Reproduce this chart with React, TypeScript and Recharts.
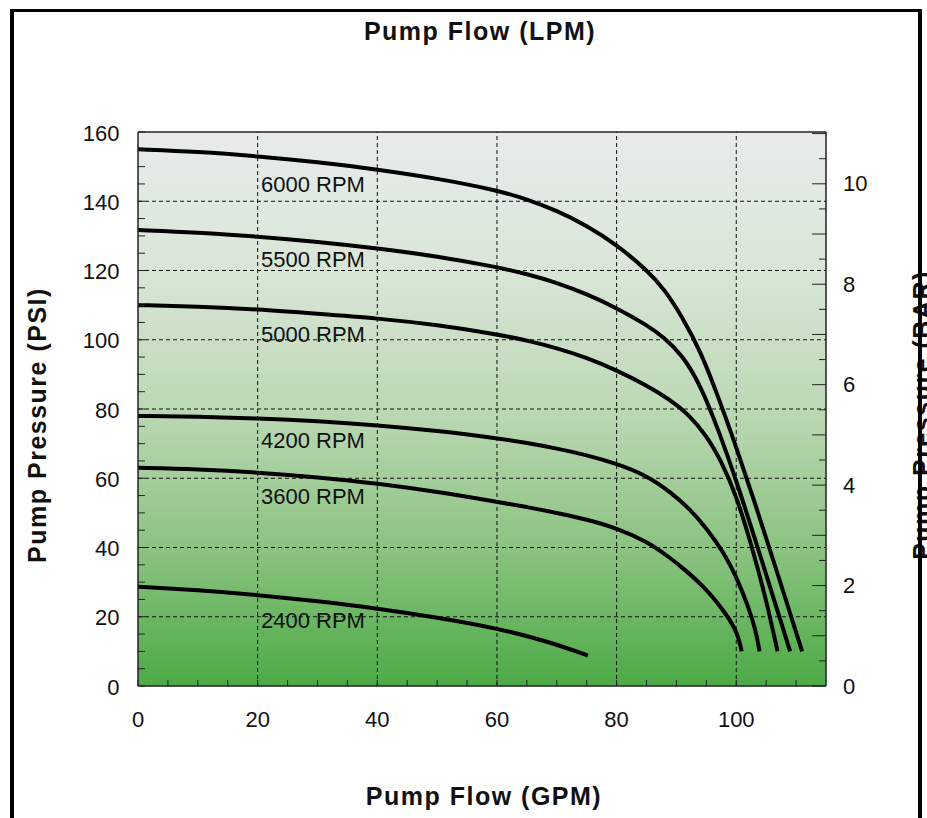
import React from 'react';
import { LineChart, Line, XAxis, YAxis, ReferenceLine, ReferenceArea, ReferenceDot } from 'recharts';

// ---- Data (GPM, PSI) ----
const rpm6000 = [
  { gpm: 0, psi: 155 }, { gpm: 10, psi: 154.3 }, { gpm: 20, psi: 153 }, { gpm: 30, psi: 151.3 },
  { gpm: 40, psi: 149.2 }, { gpm: 50, psi: 146.6 }, { gpm: 60, psi: 143.2 }, { gpm: 65, psi: 140.6 },
  { gpm: 70, psi: 137.3 }, { gpm: 75, psi: 133 }, { gpm: 80, psi: 127.5 }, { gpm: 85, psi: 120.2 },
  { gpm: 88, psi: 114.6 }, { gpm: 91, psi: 106.5 }, { gpm: 94, psi: 96.8 }, { gpm: 97, psi: 83.5 },
  { gpm: 100, psi: 69 }, { gpm: 103, psi: 53.5 }, { gpm: 107, psi: 32 }, { gpm: 111, psi: 10 },
];
const rpm5500 = [
  { gpm: 0, psi: 131.7 }, { gpm: 10, psi: 131 }, { gpm: 20, psi: 129.8 }, { gpm: 30, psi: 128.3 },
  { gpm: 40, psi: 126.4 }, { gpm: 50, psi: 124.1 }, { gpm: 60, psi: 121 }, { gpm: 65, psi: 119 },
  { gpm: 70, psi: 116.5 }, { gpm: 75, psi: 113.2 }, { gpm: 80, psi: 109.2 }, { gpm: 85, psi: 104.3 },
  { gpm: 88, psi: 100.6 }, { gpm: 91, psi: 95.5 }, { gpm: 94, psi: 87 }, { gpm: 97, psi: 74 },
  { gpm: 100, psi: 59.5 }, { gpm: 104.5, psi: 35 }, { gpm: 109, psi: 10 },
];
const rpm5000 = [
  { gpm: 0, psi: 110 }, { gpm: 10, psi: 109.6 }, { gpm: 20, psi: 108.8 }, { gpm: 30, psi: 107.5 },
  { gpm: 40, psi: 106.2 }, { gpm: 50, psi: 104.3 }, { gpm: 60, psi: 101.6 }, { gpm: 65, psi: 99.8 },
  { gpm: 70, psi: 97.6 }, { gpm: 75, psi: 94.8 }, { gpm: 80, psi: 91.2 }, { gpm: 85, psi: 86.8 },
  { gpm: 89, psi: 82.6 }, { gpm: 92, psi: 78.5 }, { gpm: 95, psi: 72.4 }, { gpm: 97.5, psi: 65 },
  { gpm: 100, psi: 55 }, { gpm: 102.5, psi: 41 }, { gpm: 105, psi: 25 }, { gpm: 106.9, psi: 10 },
];
const rpm4200 = [
  { gpm: 0, psi: 78 }, { gpm: 10, psi: 77.8 }, { gpm: 20, psi: 77.3 }, { gpm: 30, psi: 76.5 },
  { gpm: 40, psi: 75.3 }, { gpm: 50, psi: 73.7 }, { gpm: 60, psi: 71.6 }, { gpm: 65, psi: 70.2 },
  { gpm: 70, psi: 68.6 }, { gpm: 75, psi: 66.7 }, { gpm: 80, psi: 64.2 }, { gpm: 85, psi: 60.8 },
  { gpm: 89, psi: 56 }, { gpm: 92, psi: 51.5 }, { gpm: 95, psi: 45.7 }, { gpm: 98, psi: 38.3 },
  { gpm: 100, psi: 31.6 }, { gpm: 102, psi: 23 }, { gpm: 103.2, psi: 16.5 }, { gpm: 103.9, psi: 10 },
];
const rpm3600 = [
  { gpm: 0, psi: 63 }, { gpm: 10, psi: 62.6 }, { gpm: 20, psi: 61.7 }, { gpm: 30, psi: 60.3 },
  { gpm: 40, psi: 58.5 }, { gpm: 50, psi: 56.1 }, { gpm: 60, psi: 53.2 }, { gpm: 65, psi: 51.7 },
  { gpm: 70, psi: 50 }, { gpm: 75, psi: 48.1 }, { gpm: 80, psi: 45.6 }, { gpm: 85, psi: 41.8 },
  { gpm: 88.5, psi: 37.6 }, { gpm: 91.5, psi: 33.5 }, { gpm: 94.5, psi: 28.8 }, { gpm: 97, psi: 23.8 },
  { gpm: 99, psi: 19 }, { gpm: 100.3, psi: 14.8 }, { gpm: 100.9, psi: 10 },
];
const rpm2400 = [
  { gpm: 0, psi: 28.7 }, { gpm: 10, psi: 27.7 }, { gpm: 20, psi: 26.3 }, { gpm: 30, psi: 24.5 },
  { gpm: 40, psi: 22.4 }, { gpm: 50, psi: 19.8 }, { gpm: 60, psi: 16.7 }, { gpm: 68.5, psi: 12.9 },
  { gpm: 75.2, psi: 8.8 },
];

const series = [rpm6000, rpm5500, rpm5000, rpm4200, rpm3600, rpm2400];

const curveLabels = [
  { text: '6000 RPM', gpm: 20.55, psi: 144.9 },
  { text: '5500 RPM', gpm: 20.55, psi: 123.3 },
  { text: '5000 RPM', gpm: 20.55, psi: 101.6 },
  { text: '4200 RPM', gpm: 20.55, psi: 71.0 },
  { text: '3600 RPM', gpm: 20.55, psi: 54.6 },
  { text: '2400 RPM', gpm: 20.55, psi: 18.8 },
];

// ---- Axes ----
const GPM_MAX = 115;
const PSI_MAX = 160;
const LPM_PER_GPM = 3.78541;
const PSI_PER_BAR = 14.5038;

const gpmTicks = [0, 5, 10, 15, 20, 25, 30, 35, 40, 45, 50, 55, 60, 65, 70, 75, 80, 85, 90, 95, 100, 105, 110];
const gpmLabels = [0, 20, 40, 60, 80, 100];
const psiTicks = [0, 5, 10, 15, 20, 25, 30, 35, 40, 45, 50, 55, 60, 65, 70, 75, 80, 85, 90, 95, 100, 105, 110, 115, 120, 125, 130, 135, 140, 145, 150, 155, 160];
const psiLabels = [0, 20, 40, 60, 80, 100, 120, 140, 160];
const lpmTicks = [0, 10, 20, 30, 40, 50, 60, 70, 80, 90, 100, 110, 120, 130, 140, 150, 160, 170, 180, 190, 200, 210, 220, 230, 240, 250, 260, 270, 280, 290, 300, 310, 320, 330, 340, 350, 360, 370, 380, 390, 400, 410, 420, 430];
const lpmLabels = [0, 50, 100, 150, 200, 250, 300, 350, 400];
const barTicks = [0, 0.5, 1, 1.5, 2, 2.5, 3, 3.5, 4, 4.5, 5, 5.5, 6, 6.5, 7, 7.5, 8, 8.5, 9, 9.5, 10, 10.5, 11];
const barLabels = [0, 2, 4, 6, 8, 10];
const gridGpm = [20, 40, 60, 80, 100];
const gridPsi = [20, 40, 60, 80, 100, 120, 140];

const FONT = '"Liberation Sans", Arial, Helvetica, sans-serif';
const TICK_FONT = 22;
const AXIS_COLOR = '#222';

const GpmTick = (p: any) => {
  const v = p.payload.value;
  return (
    <g>
      <line x1={p.x} x2={p.x} y1={p.y} y2={p.y - 6} stroke={AXIS_COLOR} strokeWidth={1} />
      {gpmLabels.includes(v) && (
        <text x={p.x} y={p.y + 33.5} textAnchor="middle" dominantBaseline="central" fontSize={TICK_FONT} fontFamily={FONT} fill="#111">{v}</text>
      )}
    </g>
  );
};
const LpmTick = (p: any) => {
  const v = p.payload.value;
  const major = lpmLabels.includes(v);
  return (
    <g>
      <line x1={p.x} x2={p.x} y1={p.y} y2={p.y + (major ? 12 : 5)} stroke={AXIS_COLOR} strokeWidth={1} />
      {major && (
        <text x={p.x} y={p.y - 29.5} textAnchor="middle" dominantBaseline="central" fontSize={TICK_FONT} fontFamily={FONT} fill="#111">{v}</text>
      )}
    </g>
  );
};
const PsiTick = (p: any) => {
  const v = p.payload.value;
  return (
    <g>
      <line x1={p.x} x2={p.x + 7} y1={p.y} y2={p.y} stroke={AXIS_COLOR} strokeWidth={1} />
      {psiLabels.includes(v) && (
        <text x={p.x - 18.5} y={p.y + 1} textAnchor="end" dominantBaseline="central" fontSize={TICK_FONT} fontFamily={FONT} fill="#111">{v}</text>
      )}
    </g>
  );
};
const BarTick = (p: any) => {
  const v = p.payload.value;
  const major = Number.isInteger(v);
  return (
    <g>
      <line x1={p.x} x2={p.x - (major ? 14 : 7)} y1={p.y} y2={p.y} stroke={AXIS_COLOR} strokeWidth={1} />
      {barLabels.includes(v) && (
        <text x={p.x + 17} y={p.y} textAnchor="start" dominantBaseline="central" fontSize={TICK_FONT} fontFamily={FONT} fill="#111">{v}</text>
      )}
    </g>
  );
};

const TITLE_STYLE = { fontFamily: FONT, fontWeight: 700, fontSize: 25, letterSpacing: 1.5, fill: '#111' } as const;

export default function App() {
  return (
    <div style={{ position: 'absolute', left: 0, top: 0, width: 927, height: 818, background: '#fff', overflow: 'hidden' }}>
      <svg width={927} height={818} style={{ position: 'absolute', left: 0, top: 0 }}>
        <defs>
          <linearGradient id="plotBg" x1="0" y1="0" x2="0" y2="1">
            <stop offset="0%" stopColor="#e7ece9" />
            <stop offset="25%" stopColor="#d9e6d7" />
            <stop offset="50%" stopColor="#bcd8b5" />
            <stop offset="75%" stopColor="#8cc381" />
            <stop offset="100%" stopColor="#4caa46" />
          </linearGradient>
        </defs>
        <text x={480} y={40} textAnchor="middle" style={TITLE_STYLE}>Pump Flow (LPM)</text>
        <text x={484} y={805} textAnchor="middle" style={TITLE_STYLE}>Pump Flow (GPM)</text>
        <text transform="translate(46,425) rotate(-90)" textAnchor="middle" style={TITLE_STYLE}>Pump Pressure (PSI)</text>
        <text transform="translate(931,415) rotate(-90)" textAnchor="middle" style={TITLE_STYLE}>Pump Pressure (BAR)</text>
      </svg>
      <div style={{ position: 'absolute', left: 10, top: 9, width: 912, height: 900, boxSizing: 'border-box', border: '4px solid #000', borderTopWidth: 3 }} />
      <div style={{ position: 'absolute', left: 0, top: 0 }}>
        <LineChart width={927} height={818} margin={{ top: 0, right: 0, bottom: 0, left: 0 }}>
          <ReferenceArea xAxisId="gpm" yAxisId="psi" x1={0} x2={GPM_MAX} y1={0} y2={PSI_MAX} fill="url(#plotBg)" fillOpacity={1} stroke="none" />
          {gridGpm.map((g) => (
            <ReferenceLine key={'gx' + g} xAxisId="gpm" yAxisId="psi" x={g} stroke="#111" strokeWidth={1} strokeDasharray="4 3" />
          ))}
          {gridPsi.map((g) => (
            <ReferenceLine key={'gy' + g} xAxisId="gpm" yAxisId="psi" y={g} stroke="#111" strokeWidth={1} strokeDasharray="4 3" />
          ))}
          <XAxis xAxisId="gpm" orientation="bottom" type="number" dataKey="gpm" domain={[0, GPM_MAX]} allowDataOverflow
            height={132} ticks={gpmTicks} interval={0} tickSize={0} tickMargin={0} tickLine={false}
            tick={(p: any) => <GpmTick {...p} />} axisLine={{ stroke: AXIS_COLOR, strokeWidth: 1.5 }} />
          <XAxis xAxisId="lpm" orientation="top" type="number" domain={[0, GPM_MAX * LPM_PER_GPM]} allowDataOverflow
            height={132} ticks={lpmTicks} interval={0} tickSize={0} tickMargin={0} tickLine={false}
            tick={(p: any) => <LpmTick {...p} />} axisLine={{ stroke: AXIS_COLOR, strokeWidth: 1.5 }} />
          <YAxis yAxisId="psi" orientation="left" type="number" domain={[0, PSI_MAX]} allowDataOverflow
            width={138} ticks={psiTicks} interval={0} tickSize={0} tickMargin={0} tickLine={false}
            tick={(p: any) => <PsiTick {...p} />} axisLine={{ stroke: AXIS_COLOR, strokeWidth: 1.5 }} />
          <YAxis yAxisId="bar" orientation="right" type="number" domain={[0, PSI_MAX / PSI_PER_BAR]} allowDataOverflow
            width={101} ticks={barTicks} interval={0} tickSize={0} tickMargin={0} tickLine={false}
            tick={(p: any) => <BarTick {...p} />} axisLine={{ stroke: AXIS_COLOR, strokeWidth: 1.5 }} />
          {series.map((s, i) => (
            <Line key={i} xAxisId="gpm" yAxisId="psi" data={s} dataKey="psi" type="basis"
              stroke="#000" strokeWidth={4} dot={false} activeDot={false} isAnimationActive={false} strokeLinecap="butt" />
          ))}
          {curveLabels.map((l) => (
            <ReferenceDot key={l.text} xAxisId="gpm" yAxisId="psi" x={l.gpm} y={l.psi} r={0}
              shape={(p: any) => (
                <text x={p.cx} y={p.cy} textAnchor="start" dominantBaseline="central" fontSize={TICK_FONT} fontFamily={FONT} fill="#111">{l.text}</text>
              )} />
          ))}
        </LineChart>
      </div>
    </div>
  );
}
